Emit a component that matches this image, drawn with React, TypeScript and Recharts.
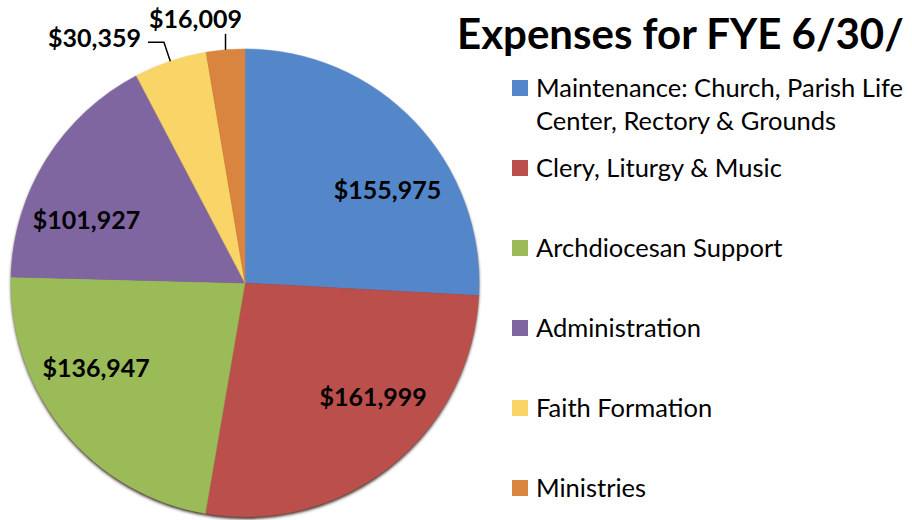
import React from 'react';
import { PieChart, Pie, Cell } from 'recharts';

const categories = [
	'Maintenance: Church, Parish Life Center, Rectory & Grounds',
	'Clery, Liturgy & Music',
	'Archdiocesan Support',
	'Administration',
	'Faith Formation',
	'Ministries',
];
const legendLines = [
	['Maintenance: Church, Parish Life', 'Center, Rectory & Grounds'],
	['Clery, Liturgy & Music'],
	['Archdiocesan Support'],
	['Administration'],
	['Faith Formation'],
	['Ministries'],
];
const expenses = [155975, 161999, 136947, 101927, 30359, 16009];
const colors = ['#5387CA', '#BB4F4C', '#9BBB59', '#8066A1', '#F9D466', '#D9843F'];

const data = categories.map((name, i) => ({ name, value: expenses[i] }));

const RAD = Math.PI / 180;
const money = (v: number) => '$' + v.toLocaleString('en-US');

// ярлыки: крупные внутри, мелкие снаружи с выноской
const renderLabel = (props: any) => {
	const { cx, cy, midAngle, outerRadius, percent, value } = props;
	let a = midAngle;
	while (a > 180) a -= 360;
	while (a <= -180) a += 360;
	const font = { fontFamily: 'Lato', fontWeight: 700, fontSize: 25, fill: '#000' };

	if (percent > 0.1) {
		// Excel тянет подписи к горизонтали
		const na = Math.abs(a) < 90 ? a - Math.sign(a) * 10 : a + Math.sign(a) * 10;
		const r = outerRadius * 0.73;
		const x = cx + r * Math.cos(-na * RAD);
		const y = cy + r * Math.sin(-na * RAD);
		return (
			<text x={x} y={y} textAnchor="middle" dominantBaseline="central" {...font}>
				{money(value)}
			</text>
		);
	}

	const sx = cx + outerRadius * Math.cos(-a * RAD);
	const sy = cy + outerRadius * Math.sin(-a * RAD);
	if (Math.abs(Math.cos(a * RAD)) < 0.15) {
		const ey = sy - 16;
		return (
			<g>
				<line x1={sx} y1={sy} x2={sx} y2={ey} stroke="#000" strokeWidth={1.5} />
				<text x={sx - 30} y={ey - 6} textAnchor="middle" {...font}>
					{money(value)}
				</text>
			</g>
		);
	}
	const ex = cx + (outerRadius + 20) * Math.cos(-a * RAD);
	const ey = cy + (outerRadius + 20) * Math.sin(-a * RAD);
	const tx = ex - 16;
	return (
		<g>
			<polyline points={`${sx},${sy} ${ex},${ey} ${tx},${ey}`} fill="none" stroke="#000" strokeWidth={1.5} />
			<text x={tx - 7} y={ey - 5} textAnchor="end" dominantBaseline="central" {...font}>
				{money(value)}
			</text>
		</g>
	);
};

export default function App() {
	return (
		<div style={{ position: 'absolute', left: 0, top: 0, width: 912, height: 520, overflow: 'hidden', background: '#fff' }}>
			<PieChart width={912} height={520}>
				<defs>
					<filter id="pieShadow" x="-10%" y="-10%" width="120%" height="120%">
						<feGaussianBlur stdDeviation="1.5" />
					</filter>
				</defs>
				<Pie
					data={[{ name: 'shadow', value: 1 }]}
					dataKey="value"
					cx={240}
					cy={280}
					outerRadius={234}
					startAngle={90}
					endAngle={-270}
					fill="#3a2a22"
					stroke="none"
					style={{ filter: 'url(#pieShadow)' }}
					isAnimationActive={false}
					label={false}
					labelLine={false}
				/>
				<Pie
					data={data}
					dataKey="value"
					cx={240}
					cy={278}
					outerRadius={234}
					startAngle={90}
					endAngle={-270}
					isAnimationActive={false}
					label={renderLabel}
					labelLine={false}
				>
					{data.map((d, i) => (
						<Cell key={d.name} fill={colors[i]} stroke={colors[i]} strokeWidth={0.5} />
					))}
				</Pie>
			</PieChart>

			<div
				style={{
					position: 'absolute',
					left: 457,
					top: 8,
					fontFamily: 'Lato',
					fontWeight: 700,
					fontSize: 42,
					whiteSpace: 'nowrap',
					color: '#000',
				}}
			>
				Expenses for FYE 6/30/
			</div>

			{legendLines.map((lines, i) => (
				<div
					key={i}
					style={{
						position: 'absolute',
						left: 512,
						top: 88 + i * 80 - 17,
						display: 'flex',
						alignItems: 'flex-start',
						fontFamily: 'Lato',
						fontSize: 25.5,
						lineHeight: '33px',
						color: '#000',
						whiteSpace: 'nowrap',
					}}
				>
					<span style={{ width: 16, height: 16, background: colors[i], marginTop: 9, marginRight: 8 }} />
					<span>
						{lines.map((l) => (
							<div key={l}>{l}</div>
						))}
					</span>
				</div>
			))}
		</div>
	);
}
